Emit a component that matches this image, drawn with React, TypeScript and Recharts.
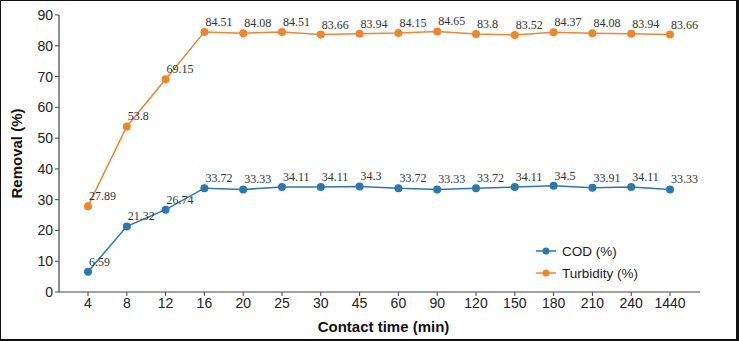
import { Line, LineChart, XAxis, YAxis } from 'recharts';

const contactTimes = ['4', '8', '12', '16', '20', '25', '30', '45', '60', '90', '120', '150', '180', '210', '240', '1440'];
const codRemoval = [6.59, 21.32, 26.74, 33.72, 33.33, 34.11, 34.11, 34.3, 33.72, 33.33, 33.72, 34.11, 34.5, 33.91, 34.11, 33.33];
const turbidityRemoval = [27.89, 53.8, 69.15, 84.51, 84.08, 84.51, 83.66, 83.94, 84.15, 84.65, 83.8, 83.52, 84.37, 84.08, 83.94, 83.66];
const yTicks = [0, 10, 20, 30, 40, 50, 60, 70, 80, 90];

const codColor = '#2a78b2';
const turbColor = '#f0862a';

const series = [
  { key: 'cod', name: 'COD (%)', color: codColor },
  { key: 'turbidity', name: 'Turbidity (%)', color: turbColor },
];

const data = contactTimes.map((t, i) => ({
  time: t,
  cod: codRemoval[i],
  turbidity: turbidityRemoval[i],
}));

const tickStyle = { fontFamily: 'Liberation Sans, Arial, sans-serif', fontSize: 14, fill: '#222' };
const titleStyle = { fontFamily: 'Liberation Sans, Arial, sans-serif', fontSize: 15, fontWeight: 'bold', fill: '#111' };

function PointLabel(props: any) {
  const { x, y, value } = props;
  if (x == null || y == null) return null;
  return (
    <text
      x={x + 1}
      y={y - 6}
      textAnchor="start"
      fontFamily="Liberation Serif, Times New Roman, serif"
      fontSize={12}
      fill="#333"
    >
      {value}
    </text>
  );
}

// legend drawn as an overlay so it doesn't shrink the plot area
function LegendBox() {
  return (
    <svg width={150} height={50} style={{ position: 'absolute', left: 536, top: 240 }}>
      {series.map((it, i) => (
        <g key={it.key} transform={`translate(0, ${i * 22})`}>
          <line x1={0} y1={11} x2={20} y2={11} stroke={it.color} strokeWidth={1.5} />
          <circle cx={10} cy={11} r={3.5} fill={it.color} />
          <text x={26} y={15.5} fontFamily="Liberation Sans, Arial, sans-serif" fontSize={13.5} fill="#222">
            {it.name}
          </text>
        </g>
      ))}
    </svg>
  );
}

export default function App() {
  return (
    <div style={{ position: 'absolute', left: 0, top: 0, width: 739, height: 341, background: '#fff' }}>
      <LineChart
        width={739}
        height={341}
        data={data}
        margin={{ top: 15, right: 39, bottom: 0, left: 0 }}
      >
        <XAxis
          dataKey="time"
          height={49}
          padding={{ left: 29, right: 30 }}
          tick={tickStyle}
          tickLine={{ stroke: '#444' }}
          tickSize={4}
          axisLine={{ stroke: '#444', strokeWidth: 1.2 }}
          interval={0}
          label={{ value: 'Contact time (min)', position: 'center', dx: 4, dy: 10, style: titleStyle }}
        />
        <XAxis xAxisId="top" dataKey="time" orientation="top" height={0} tick={false} tickLine={false} axisLine={{ stroke: '#777' }} />
        <YAxis
          width={59}
          domain={[0, 90]}
          ticks={yTicks}
          tick={tickStyle}
          tickLine={{ stroke: '#444' }}
          tickSize={4}
          axisLine={{ stroke: '#444', strokeWidth: 1.2 }}
          label={{
            value: 'Removal (%)',
            angle: -90,
            position: 'center',
            dx: -13,
            style: { ...titleStyle, textAnchor: 'middle' },
          }}
        />
        <YAxis yAxisId="right" orientation="right" width={0} domain={[0, 90]} tick={false} tickLine={false} axisLine={{ stroke: '#777' }} />
        {series.map((s) => (
          <Line
            key={s.key}
            dataKey={s.key}
            name={s.name}
            stroke={s.color}
            strokeWidth={1.5}
            dot={{ r: 4, fill: s.color, stroke: s.color, strokeWidth: 0 }}
            label={<PointLabel />}
            isAnimationActive={false}
          />
        ))}
      </LineChart>
      <LegendBox />
      <div
        style={{
          position: 'absolute',
          inset: 0,
          boxSizing: 'border-box',
          borderStyle: 'solid',
          borderColor: '#111',
          borderWidth: '1px 3px 2px 1px',
          pointerEvents: 'none',
        }}
      />
    </div>
  );
}
